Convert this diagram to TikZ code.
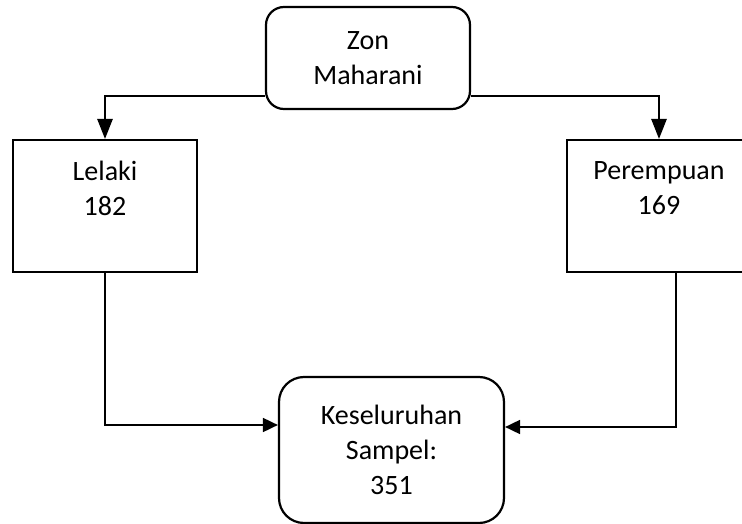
\documentclass[tikz,border=0pt]{standalone}
\usepackage{fontspec}
\setmainfont{Carlito}
\usetikzlibrary{arrows.meta}

\begin{document}
\begin{tikzpicture}[
        x = 1pt, y = -1pt, % units as on the page
        > = {Triangle[length=15pt, width=14pt]}, % arrow head style
        font = \fontsize{28}{35}\selectfont,
        roundbox/.style = {draw, rounded corners=18pt, line width=2.2pt, align=center},
        squarebox/.style = {draw, line width=2pt, align=center, minimum width=184pt, minimum height=132pt},
        link/.style = {->, line width=1.8pt},
    ]
        \useasboundingbox (0,0) rectangle (742,524);

        % Draw the nodes
        \node[roundbox, minimum width=204pt, minimum height=102pt] (zon) at (368,58) {Zon\\Maharani};
        \foreach \pos/\i/\txt in {
            (105,206)/lelaki/{Lelaki\\182\\~},
            (659,206)/perempuan/{Perempuan\\169\\~}} {
            \node[squarebox] (\i) at \pos {\txt};
        }
        \node[roundbox, rounded corners=25pt, minimum width=225pt, minimum height=146pt] (sampel) at (391.5,450) {Keseluruhan\\Sampel:\\351};

        % Draw the edges
        \draw[link, line width=2.6pt, >={Triangle[length=20pt, width=15pt]}] ([yshift=-38pt]zon.west) -| (lelaki);
        \draw[link, line width=2.6pt, >={Triangle[length=20pt, width=15pt]}] ([yshift=-38pt]zon.east) -| (perempuan);
        \draw[link] (lelaki.south) |- ([yshift=25pt]sampel.west);
        \draw[link] ([xshift=17pt]perempuan.south) |- ([yshift=23pt]sampel.east);
    \end{tikzpicture}
\end{document}
